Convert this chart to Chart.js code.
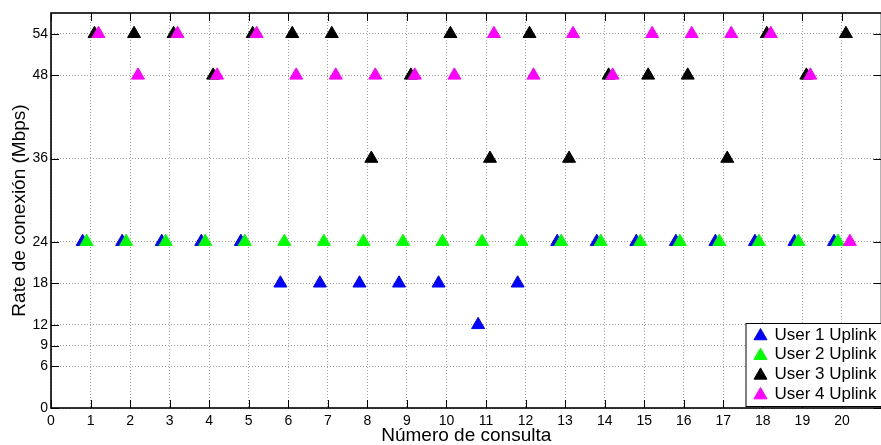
<!DOCTYPE html>
<html>
<head>
<meta charset="utf-8">
<script src="https://cdn.jsdelivr.net/npm/chart.js@4.4.0/dist/chart.umd.min.js"></script>
<style>
  html, body { margin: 0; padding: 0; background: #fff; overflow: hidden; }
  canvas { display: block; }
</style>
</head>
<body>
<canvas id="chart" width="890" height="445"></canvas>
<script>
// Número de consulta (eje x) y valores de cada usuario (Mbps)
const consultas = [1, 2, 3, 4, 5, 6, 7, 8, 9, 10, 11, 12, 13, 14, 15, 16, 17, 18, 19, 20];
const xTickValues = [0, 1, 2, 3, 4, 5, 6, 7, 8, 9, 10, 11, 12, 13, 14, 15, 16, 17, 18, 19, 20];
const yTickValues = [0, 6, 9, 12, 18, 24, 36, 48, 54];
const seriesLabels = ['User 1 Uplink', 'User 2 Uplink', 'User 3 Uplink', 'User 4 Uplink'];
const user1 = [24, 24, 24, 24, 24, 18, 18, 18, 18, 18, 12, 18, 24, 24, 24, 24, 24, 24, 24, 24];
const user2 = [24, 24, 24, 24, 24, 24, 24, 24, 24, 24, 24, 24, 24, 24, 24, 24, 24, 24, 24, 24];
const user3 = [54, 54, 54, 48, 54, 54, 54, 36, 48, 54, 36, 54, 36, 48, 48, 48, 36, 54, 48, 54];
const user4 = [54, 48, 54, 48, 54, 48, 48, 48, 48, 48, 54, 48, 54, 48, 54, 54, 54, 54, 48, 24];

const FONT = "'Liberation Sans', Arial, Helvetica, sans-serif";
const colors = ['#0000ff', '#00ff00', '#000000', '#ff00ff'];
const shifts = [-0.2, -0.1, 0.1, 0.2];   // small shift so markers don't fully overlap
const MARK_R = 7.5;

function makeSet(i, values) {
  return {
    label: seriesLabels[i],
    data: consultas.map((c, k) => ({ x: c + shifts[i], y: values[k] })),
    showLine: false,
    pointStyle: 'triangle',
    pointRadius: MARK_R,
    pointHoverRadius: MARK_R,
    backgroundColor: colors[i],
    borderColor: colors[i],
    borderWidth: 1,
    order: 4 - i   // user 4 drawn on top
  };
}

function triangle(ctx, x, y, r) {
  ctx.beginPath();
  for (let k = 0; k < 3; k++) {
    const a = k * 2 * Math.PI / 3;
    const px = x + Math.sin(a) * r, py = y - Math.cos(a) * r;
    if (k === 0) ctx.moveTo(px, py); else ctx.lineTo(px, py);
  }
  ctx.closePath();
  ctx.fill();
  ctx.stroke();
}

// box round the plot with inward tick marks (matlab look)
const frameTicks = {
  id: 'frameTicks',
  beforeDatasetsDraw(chart) {
    const { ctx, chartArea: a, scales: { x, y } } = chart;
    ctx.save();
    ctx.strokeStyle = '#000';
    ctx.lineWidth = 1;
    ctx.beginPath();
    x.ticks.forEach(t => {
      const px = Math.round(x.getPixelForValue(t.value)) + 0.5;
      ctx.moveTo(px, a.bottom); ctx.lineTo(px, a.bottom - 8);
      ctx.moveTo(px, a.top); ctx.lineTo(px, a.top + 8);
    });
    y.ticks.forEach(t => {
      const py = Math.round(y.getPixelForValue(t.value)) + 0.5;
      ctx.moveTo(a.left, py); ctx.lineTo(a.left + 8, py);
      ctx.moveTo(a.right, py); ctx.lineTo(a.right - 8, py);
    });
    ctx.stroke();
    ctx.lineWidth = 1.6;
    ctx.strokeRect(a.left, a.top, a.right - a.left, a.bottom - a.top);
    ctx.restore();
  }
};

// legend inside the plot, lower right, with a frame
const boxLegend = {
  id: 'boxLegend',
  afterDraw(chart) {
    const { ctx, chartArea: a } = chart;
    const w = 136, h = 83;
    const left = a.right - w, top = a.bottom - h - 2;
    ctx.save();
    ctx.fillStyle = '#fff';
    ctx.fillRect(left, top, w, h);
    ctx.strokeStyle = '#000';
    ctx.lineWidth = 1;
    ctx.strokeRect(left + 0.5, top + 0.5, w, h);
    ctx.font = '17px ' + FONT;
    ctx.textBaseline = 'middle';
    chart.data.datasets.forEach((ds, i) => {
      const cy = top + 12 + i * 19.7;
      ctx.fillStyle = ds.backgroundColor;
      ctx.strokeStyle = ds.borderColor;
      triangle(ctx, left + 15, cy + 1, MARK_R);
      ctx.fillStyle = '#000';
      ctx.fillText(ds.label, left + 29, cy);
    });
    ctx.restore();
  }
};

new Chart(document.getElementById('chart'), {
  type: 'scatter',
  data: {
    datasets: [makeSet(0, user1), makeSet(1, user2), makeSet(2, user3), makeSet(3, user4)]
  },
  plugins: [frameTicks, boxLegend],
  options: {
    responsive: false,
    animation: false,
    events: [],
    layout: { padding: { top: 13, right: 4, left: 0, bottom: 0 } },
    plugins: { legend: { display: false }, tooltip: { enabled: false } },
    scales: {
      x: {
        type: 'linear',
        min: 0,
        max: 21,
        afterBuildTicks: s => { s.ticks = xTickValues.map(v => ({ value: v })); },
        afterFit: s => { s.height = 37; },
        grid: { color: '#a0a0a0', lineWidth: 1, drawTicks: false },
        border: { display: false, dash: [1, 2] },
        ticks: { color: '#000', padding: 5, maxRotation: 0, autoSkip: false, font: { family: FONT, size: 14 } },
        title: { display: true, text: 'Número de consulta', color: '#000', padding: { top: 0, bottom: 0 }, font: { family: FONT, size: 19, lineHeight: 1 } }
      },
      y: {
        type: 'linear',
        min: 0,
        max: 57,
        afterBuildTicks: s => { s.ticks = yTickValues.map(v => ({ value: v })); },
        afterFit: s => { s.width = 51; },
        grid: { color: '#a0a0a0', lineWidth: 1, drawTicks: false },
        border: { display: false, dash: [1, 2] },
        ticks: { color: '#000', padding: 3, autoSkip: false, font: { family: FONT, size: 14 } },
        title: { display: true, text: 'Rate de conexión (Mbps)', color: '#000', padding: { top: 10.5, bottom: 0 }, font: { family: FONT, size: 19, lineHeight: 1 } }
      }
    }
  }
});
</script>
</body>
</html>
